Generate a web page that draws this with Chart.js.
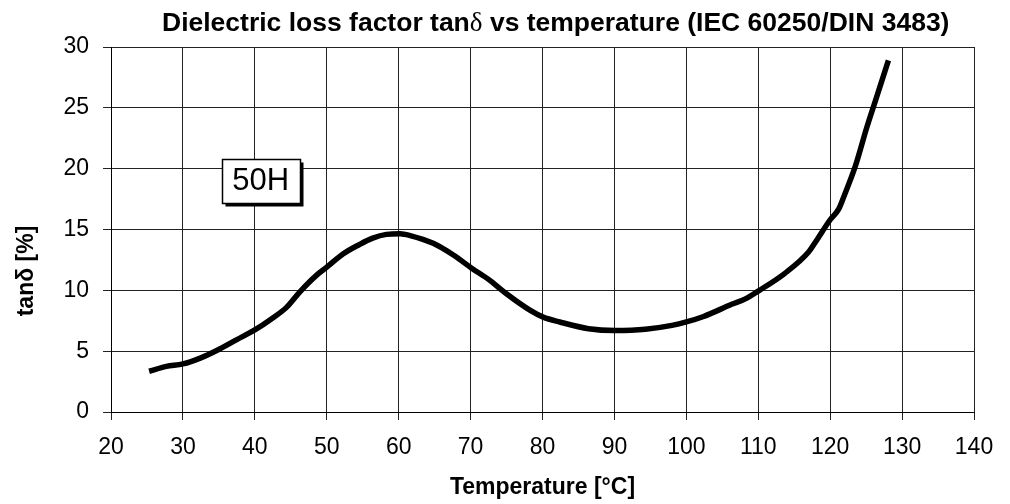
<!DOCTYPE html>
<html>
<head>
<meta charset="utf-8">
<script src="https://cdn.jsdelivr.net/npm/chart.js@4.4.1/dist/chart.umd.min.js"></script>
<style>
  body { margin: 0; background: #fff; }
  canvas { display: block; }
</style>
</head>
<body>
<canvas id="lossChart" width="1010" height="504"></canvas>
<script>
// values
const temperatures = [25.3, 27.7, 30, 32.5, 34.7, 37.5, 40, 42.3, 44.4, 46.3, 48.6, 50, 52.3, 54.5, 56.3, 58.3, 60.2, 61.6, 64.8, 67.6, 70.2, 72.5, 74.8, 78.3, 80.1, 82.4, 86.4, 90.1, 94.3, 98, 100, 102.4, 106.3, 108.2, 110, 113.7, 117, 118.1, 120, 121.2, 121.9, 123.5, 125.1, 126.3, 128.1];
const tanDelta = [3.35, 3.75, 3.95, 4.45, 5.05, 5.95, 6.75, 7.65, 8.6, 9.9, 11.25, 11.9, 13.0, 13.75, 14.27, 14.6, 14.65, 14.5, 13.86, 12.9, 11.8, 10.9, 9.8, 8.35, 7.8, 7.4, 6.85, 6.7, 6.8, 7.12, 7.4, 7.85, 8.85, 9.3, 9.94, 11.4, 13.15, 14.1, 15.8, 16.7, 17.7, 20.2, 23.4, 25.6, 28.9];

const xTicks = [20, 30, 40, 50, 60, 70, 80, 90, 100, 110, 120, 130, 140];
const yTicks = [0, 5, 10, 15, 20, 25, 30];

const titleParts = ['Dielectric loss factor tan', 'δ', ' vs temperature (IEC 60250/DIN 3483)'];
const xTitle = 'Temperature [°C]';
const yTitle = 'tanδ [%]';
const noteText = '50H';
const noteAt = { x: 40.8, y: 19.0 };

const SANS = '"Liberation Sans", Arial, Helvetica, sans-serif';

const textLayer = {
    id: 'textLayer',
    afterDraw(chart) {
        const ctx = chart.ctx;
        const xs = chart.scales.x;
        const ys = chart.scales.y;
        ctx.save();
        ctx.fillStyle = '#000';

        // chart title, delta in a serif face like the original
        ctx.textBaseline = 'alphabetic';
        ctx.textAlign = 'left';
        const fonts = ['bold 26.5px ' + SANS, '27px "Liberation Serif", serif', 'bold 26.5px ' + SANS];
        let tx = 162;
        titleParts.forEach((part, i) => {
            ctx.font = fonts[i];
            ctx.fillText(part, tx, 31);
            tx += ctx.measureText(part).width;
        });

        // y axis title
        ctx.save();
        ctx.translate(27, 271);
        ctx.rotate(-Math.PI / 2);
        ctx.font = 'bold 23px ' + SANS;
        ctx.textAlign = 'center';
        ctx.textBaseline = 'middle';
        ctx.fillText(yTitle, 0, 0);
        ctx.restore();

        // 50H label box with shadow
        const cx = xs.getPixelForValue(noteAt.x);
        const cy = ys.getPixelForValue(noteAt.y);
        const w = 78, h = 44;
        const bx = Math.round(cx - w / 2) + 0.5;
        const by = Math.round(cy - h / 2) + 0.5;
        ctx.fillRect(bx + 3, by + 3, w, h);
        ctx.fillStyle = '#fff';
        ctx.fillRect(bx, by, w, h);
        ctx.strokeStyle = '#000';
        ctx.lineWidth = 1.5;
        ctx.strokeRect(bx, by, w, h);
        ctx.fillStyle = '#000';
        ctx.font = '31px ' + SANS;
        ctx.textAlign = 'center';
        ctx.textBaseline = 'middle';
        ctx.fillText(noteText, cx, cy + 1);

        ctx.restore();
    }
};

new Chart(document.getElementById('lossChart'), {
    type: 'line',
    data: {
        datasets: [{
            data: temperatures.map((t, i) => ({ x: t, y: tanDelta[i] })),
            borderColor: '#000',
            borderWidth: 5.5,
            pointRadius: 0,
            fill: false,
            cubicInterpolationMode: 'monotone'
        }]
    },
    options: {
        responsive: false,
        animation: false,
        devicePixelRatio: 1,
        layout: { padding: { top: 47, right: 36, left: 0, bottom: 0 } },
        plugins: {
            legend: { display: false },
            title: { display: false },
            tooltip: { enabled: false }
        },
        scales: {
            x: {
                type: 'linear',
                min: 20,
                max: 140,
                afterBuildTicks: s => { s.ticks = xTicks.map(v => ({ value: v })); },
                afterFit: s => { s.height = 92; },
                grid: { color: '#222', lineWidth: 1, tickLength: 8 },
                border: { color: '#000', width: 1 },
                ticks: {
                    padding: 14,
                    color: '#000',
                    maxRotation: 0,
                    autoSkip: false,
                    font: { family: SANS, size: 23 }
                },
                title: {
                    display: true,
                    text: xTitle,
                    color: '#000',
                    font: { family: SANS, size: 23, weight: 'bold' },
                    padding: { top: 0, bottom: 3 }
                }
            },
            y: {
                min: 0,
                max: 30,
                afterBuildTicks: s => { s.ticks = yTicks.map(v => ({ value: v })); },
                afterFit: s => { s.width = 111; },
                grid: { color: '#222', lineWidth: 1, tickLength: 8 },
                border: { color: '#000', width: 1 },
                ticks: {
                    padding: 14,
                    color: '#000',
                    font: { family: SANS, size: 23 }
                }
            }
        }
    },
    plugins: [textLayer]
});
</script>
</body>
</html>
